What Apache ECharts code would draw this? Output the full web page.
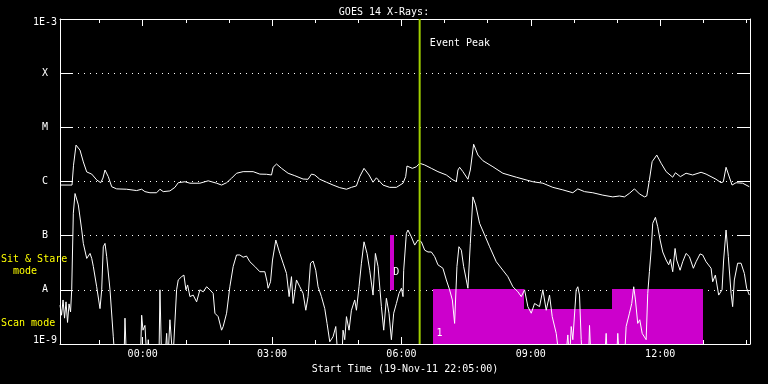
<!DOCTYPE html>
<html><head><meta charset="utf-8">
<script src="https://cdn.jsdelivr.net/npm/echarts@6/dist/echarts.min.js"></script>
<style>html,body{margin:0;padding:0;background:#000;}#c{width:768px;height:384px;}</style>
</head><body><div id="c"></div>
<script>
// Time in hours relative to 20-Nov-11 00:00 (negative = 19-Nov evening)
const timeStart = -1.9167;   // 22:05
const timeEnd = 14.0833;     // 14:05
const majorTickHours = [0, 3, 6, 9, 12];
const minorTickHours = [-1, 0, 1, 2, 3, 4, 5, 6, 7, 8, 9, 10, 11, 12, 13, 14];
const yTickLabels = {'-9': '1E-9', '-8': 'A', '-7': 'B', '-6': 'C', '-5': 'M', '-4': 'X', '-3': '1E-3'};

// GOES 14 long channel (1-8 A), W/m^2
const longChannel = [[-1.916,8.6e-7],[-1.638,8.6e-7],[-1.603,2.0e-6],[-1.545,4.7e-6],[-1.499,4.5e-6],[-1.453,3.8e-6],[-1.376,2.3e-6],[-1.297,1.5e-6],[-1.181,1.37e-6],[-1.066,1.07e-6],[-0.973,9.5e-7],[-0.920,1.16e-6],[-0.873,1.63e-6],[-0.797,1.23e-6],[-0.718,8.0e-7],[-0.602,7.3e-7],[-0.371,7.2e-7],[-0.139,6.8e-7],[-0.023,7.2e-7],[0.053,6.5e-7],[0.169,6.2e-7],[0.324,6.2e-7],[0.401,7.2e-7],[0.477,6.5e-7],[0.632,6.7e-7],[0.748,7.8e-7],[0.825,9.5e-7],[0.980,9.9e-7],[1.096,9.3e-7],[1.327,9.3e-7],[1.520,1.03e-6],[1.714,9.3e-7],[1.830,8.6e-7],[1.946,9.5e-7],[2.062,1.15e-6],[2.177,1.42e-6],[2.330,1.52e-6],[2.562,1.52e-6],[2.717,1.37e-6],[2.872,1.36e-6],[2.988,1.32e-6],[3.025,1.83e-6],[3.104,2.1e-6],[3.220,1.75e-6],[3.373,1.42e-6],[3.528,1.28e-6],[3.720,1.11e-6],[3.836,1.1e-6],[3.915,1.37e-6],[3.991,1.32e-6],[4.107,1.1e-6],[4.262,9.7e-7],[4.415,8.6e-7],[4.570,7.7e-7],[4.726,7.2e-7],[4.841,7.8e-7],[4.957,8.3e-7],[5.034,1.23e-6],[5.133,1.75e-6],[5.249,1.32e-6],[5.342,9.7e-7],[5.420,1.17e-6],[5.573,8.6e-7],[5.728,7.8e-7],[5.884,7.8e-7],[6.037,9.3e-7],[6.099,1.23e-6],[6.129,1.93e-6],[6.169,2.02e-6],[6.254,1.75e-6],[6.347,1.87e-6],[6.423,2.17e-6],[6.540,2.02e-6],[6.694,1.75e-6],[6.847,1.52e-6],[7.042,1.32e-6],[7.195,1.07e-6],[7.274,1.0e-6],[7.311,1.63e-6],[7.350,1.83e-6],[7.426,1.52e-6],[7.542,1.1e-6],[7.598,1.63e-6],[7.675,4.87e-6],[7.721,4.5e-6],[7.774,3.08e-6],[7.890,2.42e-6],[8.122,1.87e-6],[8.353,1.42e-6],[8.664,1.2e-6],[9.048,9.9e-7],[9.280,9.3e-7],[9.511,7.8e-7],[9.743,7.0e-7],[9.975,6.2e-7],[10.090,7.3e-7],[10.246,6.5e-7],[10.438,6.2e-7],[10.670,5.6e-7],[10.901,5.2e-7],[11.056,5.4e-7],[11.172,5.2e-7],[11.288,6.05e-7],[11.404,7.3e-7],[11.520,5.9e-7],[11.636,5.2e-7],[11.689,5.4e-7],[11.751,1.07e-6],[11.814,2.32e-6],[11.921,3.08e-6],[12.023,2.17e-6],[12.139,1.52e-6],[12.291,1.2e-6],[12.354,1.45e-6],[12.469,1.23e-6],[12.601,1.42e-6],[12.754,1.32e-6],[12.949,1.48e-6],[13.065,1.37e-6],[13.296,1.1e-6],[13.412,9.5e-7],[13.465,9.9e-7],[13.528,1.83e-6],[13.588,1.32e-6],[13.667,8.6e-7],[13.760,9.5e-7],[13.913,9.3e-7],[14.067,8.0e-7]];

// GOES 14 short channel (0.5-4 A), W/m^2 (values below 1E-9 run off the plot)
const shortChannel = [[-1.916,5.2e-9],[-1.881,3.4e-9],[-1.846,6.5e-9],[-1.811,3.0e-9],[-1.777,6.0e-9],[-1.742,2.5e-9],[-1.707,5.5e-9],[-1.672,3.9e-9],[-1.645,1.0e-8],[-1.608,2.6e-7],[-1.568,6.0e-7],[-1.545,5.6e-7],[-1.492,3.7e-7],[-1.413,1.27e-7],[-1.376,7.2e-8],[-1.297,3.8e-8],[-1.220,4.7e-8],[-1.181,3.8e-8],[-1.144,2.7e-8],[-1.066,1.14e-8],[-1.029,1.07e-8],[-0.989,4.5e-9],[-0.950,1.0e-8],[-0.913,6.25e-8],[-0.873,7.2e-8],[-0.834,4.1e-8],[-0.757,1.0e-8],[-0.681,1.36e-9],[-0.642,5e-10],[-0.433,5e-10],[-0.410,3.0e-9],[-0.375,5e-10],[-0.051,5e-10],[-0.023,3.4e-9],[0.007,1.8e-9],[0.053,2.2e-9],[0.100,5e-10],[0.130,1.2e-9],[0.169,5e-10],[0.378,5e-10],[0.401,1.0e-8],[0.440,5e-10],[0.516,5e-10],[0.556,1.57e-9],[0.586,5e-10],[0.632,2.8e-9],[0.701,5e-10],[0.787,1.0e-8],[0.825,1.52e-8],[0.903,1.75e-8],[0.957,1.87e-8],[1.003,1.0e-8],[1.042,1.23e-8],[1.096,7.5e-9],[1.172,8.0e-9],[1.251,6.0e-9],[1.327,1.0e-8],[1.404,9.2e-9],[1.483,1.14e-8],[1.560,1.0e-8],[1.635,8.6e-9],[1.675,3.7e-9],[1.751,3.2e-9],[1.830,1.8e-9],[1.867,2.1e-9],[1.946,3.7e-9],[2.022,1.14e-8],[2.099,2.7e-8],[2.177,4.4e-8],[2.254,4.4e-8],[2.330,4.0e-8],[2.409,4.2e-8],[2.486,3.3e-8],[2.601,2.7e-8],[2.717,2.16e-8],[2.833,2.16e-8],[2.886,1.41e-8],[2.909,1.07e-8],[2.965,1.41e-8],[3.011,3.55e-8],[3.088,8.3e-8],[3.181,4.7e-8],[3.257,3.1e-8],[3.336,2.0e-8],[3.396,7.5e-9],[3.451,1.75e-8],[3.489,5.6e-9],[3.567,1.52e-8],[3.644,1.14e-8],[3.720,8.6e-9],[3.783,4.2e-9],[3.836,7.5e-9],[3.892,3.1e-8],[3.952,3.4e-8],[4.014,2.3e-8],[4.068,1.14e-8],[4.146,7.5e-9],[4.223,4.5e-9],[4.276,2.4e-9],[4.339,1.1e-9],[4.415,1.36e-9],[4.478,2.1e-9],[4.531,5e-10],[4.617,5e-10],[4.647,1.8e-9],[4.686,1.2e-9],[4.726,3.2e-9],[4.786,1.8e-9],[4.841,4.2e-9],[4.918,6.5e-9],[4.957,4.2e-9],[5.017,1.14e-8],[5.073,3.1e-8],[5.133,7.7e-8],[5.203,4.7e-8],[5.265,2.3e-8],[5.342,8.0e-9],[5.397,4.7e-8],[5.458,2.7e-8],[5.536,4.9e-9],[5.590,1.8e-9],[5.652,7.0e-9],[5.712,3.7e-9],[5.768,1.2e-9],[5.821,3.7e-9],[5.884,5.6e-9],[5.944,8.6e-9],[6.000,1.07e-8],[6.037,7.5e-9],[6.053,2.3e-8],[6.115,1.1e-7],[6.152,1.27e-7],[6.231,9.5e-8],[6.308,6.7e-8],[6.384,8.3e-8],[6.463,7.7e-8],[6.540,5.4e-8],[6.616,5.0e-8],[6.694,5.0e-8],[6.771,4.1e-8],[6.847,2.9e-8],[6.963,2.5e-8],[7.042,1.52e-8],[7.118,1.0e-8],[7.181,6.5e-9],[7.234,2.4e-9],[7.288,2.7e-8],[7.334,6.25e-8],[7.390,5.4e-8],[7.443,2.7e-8],[7.505,1.52e-8],[7.542,1.07e-8],[7.598,7.2e-8],[7.658,5.2e-7],[7.721,3.7e-7],[7.813,1.69e-7],[7.929,1.03e-7],[8.045,6.25e-8],[8.200,3.3e-8],[8.353,2.3e-8],[8.469,1.75e-8],[8.585,1.14e-8],[8.701,9.2e-9],[8.780,7.5e-9],[8.856,1.0e-8],[8.932,4.9e-9],[9.011,3.7e-9],[9.088,5.6e-9],[9.203,4.9e-9],[9.280,1.0e-8],[9.358,4.2e-9],[9.435,8.0e-9],[9.497,3.2e-9],[9.590,1.57e-9],[9.666,5e-10],[9.805,5e-10],[9.859,1.47e-9],[9.898,5e-10],[9.938,2.1e-9],[9.975,1.2e-9],[10.053,1.0e-8],[10.090,1.14e-8],[10.130,8.0e-9],[10.169,1.2e-9],[10.199,5e-10],[10.338,5e-10],[10.362,2.2e-9],[10.396,5e-10],[10.709,5e-10],[10.748,1.57e-9],[10.778,5e-10],[10.987,5e-10],[11.017,1.57e-9],[11.056,5e-10],[11.172,5e-10],[11.211,2.1e-9],[11.288,3.7e-9],[11.341,5.6e-9],[11.387,1.14e-8],[11.427,6.5e-9],[11.480,2.4e-9],[11.527,2.8e-9],[11.583,1.57e-9],[11.675,1.2e-9],[11.712,8.6e-9],[11.751,2.16e-8],[11.791,5.4e-8],[11.828,1.69e-7],[11.890,2.18e-7],[11.944,1.46e-7],[11.999,8.3e-8],[12.060,5.0e-8],[12.138,3.55e-8],[12.198,2.9e-8],[12.238,3.65e-8],[12.291,2.16e-8],[12.346,5.8e-8],[12.384,3.55e-8],[12.462,2.3e-8],[12.523,3.3e-8],[12.601,4.7e-8],[12.678,4.1e-8],[12.770,2.5e-8],[12.833,3.3e-8],[12.926,4.6e-8],[12.986,4.4e-8],[13.065,3.3e-8],[13.181,2.5e-8],[13.218,1.41e-8],[13.280,1.87e-8],[13.357,8.0e-9],[13.435,1.0e-8],[13.472,3.55e-8],[13.528,1.27e-7],[13.581,4.1e-8],[13.644,8.6e-9],[13.681,4.9e-9],[13.720,1.52e-8],[13.797,3.1e-8],[13.876,3.1e-8],[13.953,2.0e-8],[14.006,1.07e-8],[14.068,8.0e-9]];

// Instrument mode blocks: [startHour, endHour, lowFlux, highFlux]
const scanModeBlocks = [[6.748, 8.832, 1e-9, 1e-8], [8.832, 10.894, 1e-9, 4.27e-9], [10.894, 12.979, 1e-9, 1e-8]];
const sitStareBlocks = [[5.751, 5.821, 1e-8, 1e-7]];
const eventPeakTime = 6.423;
// annotation texts: [hour, flux, text]
const annotations = [[5.81, 2.1e-8, 'D'], [6.815, 1.6e-9, '1'], [6.66, 3.6e-4, 'Event Peak']];

const FONT = 'DejaVu Sans Mono';
const pad2 = n => (n < 10 ? '0' : '') + n;

const chart = echarts.init(document.getElementById('c'), null, {renderer: 'canvas'});

function rectItem(params, api) {
  const p0 = api.coord([api.value(0), api.value(3)]);
  const p1 = api.coord([api.value(1), api.value(2)]);
  const x0 = Math.floor(p0[0]), x1 = Math.ceil(p1[0]);
  const y0 = Math.floor(p0[1]), y1 = Math.ceil(p1[1]);
  return {type: 'rect', shape: {x: x0, y: y0, width: x1 - x0, height: y1 - y0},
          style: {fill: '#cc00cc', stroke: null}};
}

const xCommon = {type: 'value', min: timeStart, max: timeEnd, splitLine: {show: false}};

chart.setOption({
  backgroundColor: '#000',
  animation: false,
  title: {text: 'GOES 14 X-Rays:', left: 'center', top: 2,
          textStyle: {color: '#fff', fontFamily: FONT, fontSize: 10, fontWeight: 'normal'}},
  grid: {left: 60, right: 18, top: 19, bottom: 40, containLabel: false},
  xAxis: [
    Object.assign({}, xCommon, {position: 'bottom',
      axisLine: {show: true, onZero: false, lineStyle: {color: '#fff', width: 1}},
      axisTick: {show: true, inside: true, length: 7, customValues: majorTickHours, lineStyle: {color: '#fff'}},
      axisLabel: {show: true, customValues: majorTickHours, margin: 5, color: '#fff', fontFamily: FONT, fontSize: 10,
                  formatter: v => pad2(Math.round(v)) + ':00'},
      name: 'Start Time (19-Nov-11 22:05:00)', nameLocation: 'middle', nameGap: 20,
      nameTextStyle: {color: '#fff', fontFamily: FONT, fontSize: 10}}),
    Object.assign({}, xCommon, {position: 'bottom',
      axisLine: {show: false, onZero: false},
      axisTick: {show: true, inside: true, length: 4, customValues: minorTickHours, lineStyle: {color: '#fff'}},
      axisLabel: {show: false}}),
    Object.assign({}, xCommon, {position: 'top',
      axisLine: {show: true, onZero: false, lineStyle: {color: '#fff', width: 1}},
      axisTick: {show: true, inside: true, length: 7, customValues: majorTickHours, lineStyle: {color: '#fff'}},
      axisLabel: {show: false}}),
    Object.assign({}, xCommon, {position: 'top',
      axisLine: {show: false, onZero: false},
      axisTick: {show: true, inside: true, length: 4, customValues: minorTickHours, lineStyle: {color: '#fff'}},
      axisLabel: {show: false}})
  ],
  yAxis: [
    {type: 'log', logBase: 10, min: 1e-9, max: 1e-3, position: 'left',
     axisLine: {show: true, onZero: false, lineStyle: {color: '#fff', width: 1}},
     axisTick: {show: true, inside: true, length: 12, lineStyle: {color: '#fff'}},
     minorTick: {show: false},
     splitLine: {show: true, lineStyle: {color: '#fff', type: [1, 5], width: 1}},
     axisLabel: {show: true, margin: 3, showMinLabel: true, showMaxLabel: true,
       formatter: v => {
         const e = Math.round(Math.log10(v));
         const t = yTickLabels[String(e)];
         if (e === -3) return '{t|' + t + '}';
         if (e === -9) return '{b|' + t + '}';
         return '{c|' + t + '}';
       },
       rich: {
         t: {color: '#fff', fontFamily: FONT, fontSize: 10, padding: [6, 0, 0, 0]},
         b: {color: '#fff', fontFamily: FONT, fontSize: 10, padding: [0, 0, 7, 0]},
         c: {color: '#fff', fontFamily: FONT, fontSize: 10, padding: [0, 9, 0, 0]}
       }}},
    {type: 'log', logBase: 10, min: 1e-9, max: 1e-3, position: 'right',
     axisLine: {show: true, onZero: false, lineStyle: {color: '#fff', width: 1}},
     axisTick: {show: true, inside: true, length: 13, lineStyle: {color: '#fff'}},
     splitLine: {show: false}, axisLabel: {show: false}}
  ],
  graphic: [
    {type: 'text', left: 1, top: 253, style: {text: 'Sit & Stare\n  mode', fill: '#ffff00', font: '10px ' + FONT, lineHeight: 12}},
    {type: 'text', left: 1, top: 318, style: {text: 'Scan mode', fill: '#ffff00', font: '10px ' + FONT}}
  ],
  series: [
    {type: 'custom', name: 'Scan mode', xAxisIndex: 0, yAxisIndex: 0, z: 1,
     renderItem: rectItem, encode: {x: [0, 1], y: [2, 3]}, data: scanModeBlocks},
    {type: 'custom', name: 'Sit & Stare mode', xAxisIndex: 0, yAxisIndex: 0, z: 1,
     renderItem: rectItem, encode: {x: [0, 1], y: [2, 3]}, data: sitStareBlocks},
    {type: 'line', name: 'long', data: longChannel, showSymbol: false, symbol: 'none', clip: true, z: 3,
     lineStyle: {color: '#fff', width: 1}},
    {type: 'line', name: 'short', data: shortChannel, showSymbol: false, symbol: 'none', clip: true, z: 3,
     lineStyle: {color: '#fff', width: 1}},
    {type: 'line', name: 'Event Peak', data: [[eventPeakTime, 1e-9], [eventPeakTime, 1e-3]], showSymbol: false,
     symbol: 'none', z: 4, lineStyle: {color: '#a0d000', width: 2}},
    {type: 'custom', name: 'labels', z: 5, encode: {x: 0, y: 1}, data: annotations,
     renderItem: (params, api) => {
       const p = api.coord([api.value(0), api.value(1)]);
       return {type: 'text', x: p[0], y: p[1],
               style: {text: annotations[params.dataIndex][2], fill: '#fff', font: '10px ' + FONT,
                       textAlign: 'left', textVerticalAlign: 'middle'}};
     }}
  ]
});
</script>
</body></html>
